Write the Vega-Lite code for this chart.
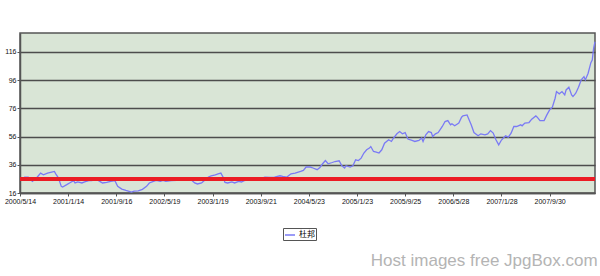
{
  "$schema": "https://vega.github.io/schema/vega-lite/v6.json",
  "width": 575,
  "height": 160,
  "autosize": {"type": "none"},
  "padding": {"left": 20, "top": 33, "right": 5, "bottom": 83},
  "background": "#ffffff",
  "title": {
    "text": "Host images free JpgBox.com",
    "orient": "bottom",
    "anchor": "end",
    "color": "#b4b4b4",
    "font": "Liberation Sans",
    "fontSize": 17,
    "fontWeight": "normal",
    "offset": 12
  },
  "datasets": {
    "dupont": [
      {"date": "2000-06-04", "price": 27.3},
      {"date": "2000-06-25", "price": 27.3},
      {"date": "2000-07-16", "price": 24.2},
      {"date": "2000-08-06", "price": 26.6},
      {"date": "2000-08-27", "price": 30.1},
      {"date": "2000-09-10", "price": 28.9},
      {"date": "2000-10-01", "price": 30.1},
      {"date": "2000-10-22", "price": 30.8},
      {"date": "2000-11-05", "price": 31.3},
      {"date": "2000-11-12", "price": 29.6},
      {"date": "2000-11-26", "price": 26.6},
      {"date": "2000-12-10", "price": 20.7},
      {"date": "2000-12-17", "price": 20.2},
      {"date": "2001-01-07", "price": 21.9},
      {"date": "2001-01-21", "price": 23.1},
      {"date": "2001-02-11", "price": 24.7},
      {"date": "2001-02-18", "price": 23.1},
      {"date": "2001-03-04", "price": 23.8},
      {"date": "2001-03-25", "price": 23.1},
      {"date": "2001-04-08", "price": 23.8},
      {"date": "2001-04-29", "price": 24.7},
      {"date": "2001-05-13", "price": 24.7},
      {"date": "2001-06-10", "price": 25.4},
      {"date": "2001-06-24", "price": 24.2},
      {"date": "2001-07-08", "price": 23.1},
      {"date": "2001-07-29", "price": 23.5},
      {"date": "2001-08-19", "price": 24.2},
      {"date": "2001-09-09", "price": 24.7},
      {"date": "2001-09-23", "price": 20.7},
      {"date": "2001-10-14", "price": 18.8},
      {"date": "2001-11-04", "price": 17.8},
      {"date": "2001-12-02", "price": 16.7},
      {"date": "2001-12-16", "price": 17.4},
      {"date": "2002-01-06", "price": 17.5},
      {"date": "2002-01-27", "price": 18.6},
      {"date": "2002-02-17", "price": 20.7},
      {"date": "2002-03-03", "price": 23.1},
      {"date": "2002-03-24", "price": 24.2},
      {"date": "2002-04-07", "price": 24.9},
      {"date": "2002-04-28", "price": 24.2},
      {"date": "2002-05-12", "price": 24.9},
      {"date": "2002-05-26", "price": 24.2},
      {"date": "2002-06-23", "price": 24.7},
      {"date": "2002-07-21", "price": 24.9},
      {"date": "2002-08-04", "price": 25.4},
      {"date": "2002-09-01", "price": 25.9},
      {"date": "2002-09-22", "price": 26.6},
      {"date": "2002-10-20", "price": 23.1},
      {"date": "2002-11-03", "price": 22.4},
      {"date": "2002-11-24", "price": 23.1},
      {"date": "2002-12-08", "price": 24.9},
      {"date": "2002-12-29", "price": 27.3},
      {"date": "2003-01-12", "price": 28.2},
      {"date": "2003-02-02", "price": 28.9},
      {"date": "2003-02-16", "price": 29.6},
      {"date": "2003-03-02", "price": 30.1},
      {"date": "2003-03-16", "price": 26.6},
      {"date": "2003-03-23", "price": 23.5},
      {"date": "2003-04-06", "price": 23.1},
      {"date": "2003-04-27", "price": 23.8},
      {"date": "2003-05-11", "price": 23.1},
      {"date": "2003-06-01", "price": 24.2},
      {"date": "2003-06-15", "price": 23.8},
      {"date": "2003-06-29", "price": 24.7},
      {"date": "2003-07-27", "price": 25.4},
      {"date": "2003-08-17", "price": 25.9},
      {"date": "2003-09-07", "price": 25.3},
      {"date": "2003-09-28", "price": 26.6},
      {"date": "2003-10-12", "price": 27.3},
      {"date": "2003-11-09", "price": 27.0},
      {"date": "2003-11-30", "price": 27.3},
      {"date": "2003-12-28", "price": 28.2},
      {"date": "2004-01-11", "price": 27.7},
      {"date": "2004-02-01", "price": 27.3},
      {"date": "2004-02-22", "price": 29.6},
      {"date": "2004-03-14", "price": 30.1},
      {"date": "2004-04-11", "price": 31.3},
      {"date": "2004-04-25", "price": 32.0},
      {"date": "2004-05-09", "price": 34.4},
      {"date": "2004-05-30", "price": 34.4},
      {"date": "2004-06-13", "price": 33.7},
      {"date": "2004-07-04", "price": 32.5},
      {"date": "2004-07-18", "price": 34.1},
      {"date": "2004-08-01", "price": 36.7},
      {"date": "2004-08-15", "price": 39.0},
      {"date": "2004-08-29", "price": 36.7},
      {"date": "2004-09-19", "price": 37.6},
      {"date": "2004-10-03", "price": 38.3},
      {"date": "2004-10-24", "price": 38.8},
      {"date": "2004-11-07", "price": 35.3},
      {"date": "2004-11-21", "price": 33.7},
      {"date": "2004-11-28", "price": 35.3},
      {"date": "2004-12-19", "price": 34.4},
      {"date": "2005-01-02", "price": 35.3},
      {"date": "2005-01-16", "price": 39.5},
      {"date": "2005-01-30", "price": 39.0},
      {"date": "2005-02-13", "price": 40.7},
      {"date": "2005-02-27", "price": 44.3},
      {"date": "2005-03-13", "price": 46.6},
      {"date": "2005-03-27", "price": 47.8},
      {"date": "2005-04-03", "price": 48.9},
      {"date": "2005-04-17", "price": 45.4},
      {"date": "2005-05-01", "price": 45.0},
      {"date": "2005-05-15", "price": 44.3},
      {"date": "2005-05-29", "price": 46.6},
      {"date": "2005-06-12", "price": 51.3},
      {"date": "2005-07-03", "price": 53.7},
      {"date": "2005-07-17", "price": 52.5},
      {"date": "2005-07-24", "price": 54.2},
      {"date": "2005-08-14", "price": 57.9},
      {"date": "2005-08-28", "price": 59.5},
      {"date": "2005-09-11", "price": 57.9},
      {"date": "2005-09-25", "price": 58.8},
      {"date": "2005-10-09", "price": 54.2},
      {"date": "2005-10-30", "price": 53.2},
      {"date": "2005-11-13", "price": 52.5},
      {"date": "2005-12-04", "price": 53.2},
      {"date": "2005-12-18", "price": 54.9},
      {"date": "2005-12-25", "price": 52.5},
      {"date": "2006-01-08", "price": 57.2},
      {"date": "2006-01-22", "price": 59.5},
      {"date": "2006-02-05", "price": 58.8},
      {"date": "2006-02-12", "price": 56.0},
      {"date": "2006-02-26", "price": 57.9},
      {"date": "2006-03-12", "price": 58.8},
      {"date": "2006-04-02", "price": 63.1},
      {"date": "2006-04-16", "price": 66.6},
      {"date": "2006-04-30", "price": 67.3},
      {"date": "2006-05-14", "price": 64.3},
      {"date": "2006-05-21", "price": 65.0},
      {"date": "2006-06-04", "price": 63.6},
      {"date": "2006-06-25", "price": 65.5},
      {"date": "2006-07-09", "price": 69.7},
      {"date": "2006-07-16", "price": 70.6},
      {"date": "2006-08-06", "price": 71.3},
      {"date": "2006-08-13", "price": 69.0},
      {"date": "2006-08-27", "price": 64.3},
      {"date": "2006-09-10", "price": 58.8},
      {"date": "2006-10-01", "price": 56.5},
      {"date": "2006-10-15", "price": 57.9},
      {"date": "2006-11-05", "price": 57.2},
      {"date": "2006-11-19", "price": 57.9},
      {"date": "2006-12-03", "price": 60.2},
      {"date": "2006-12-17", "price": 58.4},
      {"date": "2006-12-31", "price": 53.7},
      {"date": "2007-01-14", "price": 50.1},
      {"date": "2007-01-28", "price": 53.5},
      {"date": "2007-02-18", "price": 56.5},
      {"date": "2007-03-04", "price": 55.6},
      {"date": "2007-03-18", "price": 58.4},
      {"date": "2007-04-01", "price": 63.1},
      {"date": "2007-04-15", "price": 63.1},
      {"date": "2007-05-06", "price": 64.3},
      {"date": "2007-05-13", "price": 63.6},
      {"date": "2007-05-27", "price": 65.5},
      {"date": "2007-06-17", "price": 65.9},
      {"date": "2007-07-01", "price": 68.3},
      {"date": "2007-07-22", "price": 70.6},
      {"date": "2007-07-29", "price": 69.7},
      {"date": "2007-08-12", "price": 67.3},
      {"date": "2007-09-02", "price": 67.3},
      {"date": "2007-09-16", "price": 71.3},
      {"date": "2007-09-30", "price": 74.9},
      {"date": "2007-10-14", "price": 76.8},
      {"date": "2007-10-28", "price": 83.1},
      {"date": "2007-11-04", "price": 87.8},
      {"date": "2007-11-18", "price": 86.2},
      {"date": "2007-12-02", "price": 87.8},
      {"date": "2007-12-16", "price": 85.5},
      {"date": "2007-12-23", "price": 89.0},
      {"date": "2008-01-06", "price": 90.9},
      {"date": "2008-01-20", "price": 85.5},
      {"date": "2008-01-27", "price": 84.3},
      {"date": "2008-02-10", "price": 86.7},
      {"date": "2008-02-24", "price": 90.9},
      {"date": "2008-03-09", "price": 96.1},
      {"date": "2008-03-23", "price": 98.4},
      {"date": "2008-03-30", "price": 96.1},
      {"date": "2008-04-13", "price": 100.8},
      {"date": "2008-04-27", "price": 108.3},
      {"date": "2008-05-04", "price": 110.2},
      {"date": "2008-05-11", "price": 118.5},
      {"date": "2008-05-18", "price": 123.1}
    ],
    "reference": [{"level": 26}]
  },
  "layer": [
    {
      "data": {"name": "dupont"},
      "mark": {"type": "line", "strokeWidth": 1.3, "interpolate": "linear"},
      "encoding": {
        "x": {
          "field": "date",
          "type": "temporal",
          "title": null,
          "scale": {
            "type": "utc",
            "domain": [
              {"year": 2000, "month": 5, "date": 14, "utc": true},
              {"year": 2008, "month": 5, "date": 18, "utc": true}
            ]
          },
          "axis": {
            "values": [
              {"year": 2000, "month": 5, "date": 14, "utc": true},
              {"year": 2001, "month": 1, "date": 14, "utc": true},
              {"year": 2001, "month": 9, "date": 16, "utc": true},
              {"year": 2002, "month": 5, "date": 19, "utc": true},
              {"year": 2003, "month": 1, "date": 19, "utc": true},
              {"year": 2003, "month": 9, "date": 21, "utc": true},
              {"year": 2004, "month": 5, "date": 23, "utc": true},
              {"year": 2005, "month": 1, "date": 23, "utc": true},
              {"year": 2005, "month": 9, "date": 25, "utc": true},
              {"year": 2006, "month": 5, "date": 28, "utc": true},
              {"year": 2007, "month": 1, "date": 28, "utc": true},
              {"year": 2007, "month": 9, "date": 30, "utc": true}
            ],
            "tickCount": 20,
            "labelExpr": "utcFormat(datum.value, '%Y/%-m/%-d')",
            "grid": false,
            "labelFlush": false,
            "labelOverlap": false
          }
        },
        "y": {
          "field": "price",
          "type": "quantitative",
          "title": null,
          "scale": {"domain": [16, 129.3], "nice": false, "zero": false},
          "axis": {
            "values": [16, 36, 56, 76, 96, 116],
            "tickCount": 10,
            "grid": true,
            "gridColor": "#4d4d4d",
            "gridWidth": 1.5,
            "labelOverlap": false,
            "labelFlush": false
          }
        },
        "color": {
          "datum": "杜邦",
          "scale": {"range": ["#7a7af5"]},
          "legend": {
            "title": null,
            "orient": "none",
            "legendX": 263,
            "legendY": 195,
            "symbolType": "stroke",
            "symbolSize": 100,
            "symbolStrokeWidth": 1.5,
            "labelFont": "Noto Sans CJK SC",
            "labelFontSize": 8,
            "labelColor": "#000000",
            "labelOffset": 3,
            "strokeColor": "#555555",
            "fillColor": "#ffffff",
            "padding": 1
          }
        }
      }
    },
    {
      "data": {"name": "reference"},
      "mark": {"type": "rule", "color": "#ec1c24", "strokeWidth": 4},
      "encoding": {
        "y": {"field": "level", "type": "quantitative"}
      }
    }
  ],
  "config": {
    "view": {"fill": "#d9e5d6", "stroke": "#555555", "strokeWidth": 1.5},
    "axis": {
      "labelFont": "Liberation Sans",
      "labelFontSize": 7,
      "labelColor": "#111111",
      "domainColor": "#555555",
      "domainWidth": 1.5,
      "tickColor": "#555555",
      "tickSize": 3,
      "labelPadding": 1
    }
  }
}
